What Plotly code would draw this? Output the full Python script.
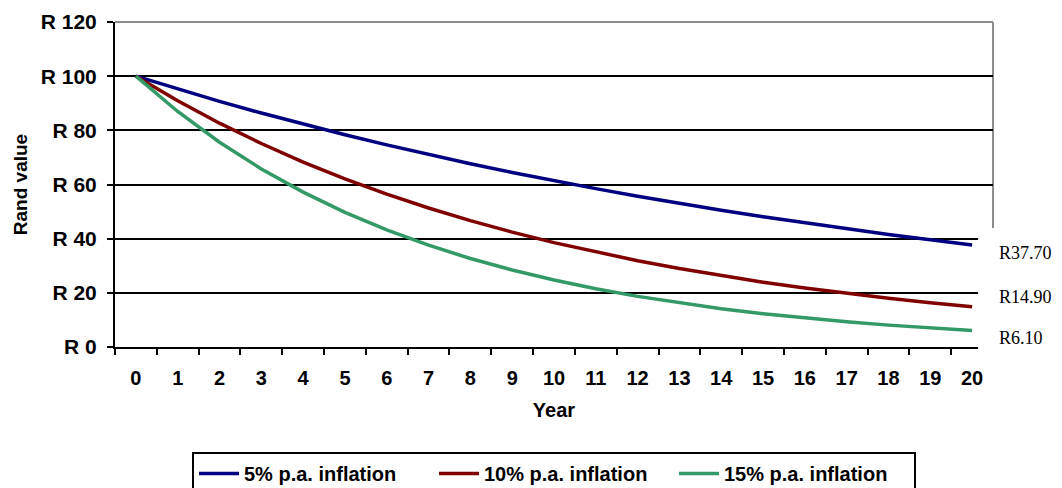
import plotly.graph_objects as go

years = list(range(21))
year_labels = [str(y) for y in years]
s5 = [100, 95.24, 90.70, 86.38, 82.27, 78.35, 74.62, 71.07, 67.68, 64.46, 61.39,
      58.47, 55.68, 53.03, 50.51, 48.10, 45.81, 43.63, 41.55, 39.57, 37.69]
s10 = [100, 90.91, 82.64, 75.13, 68.30, 62.09, 56.45, 51.32, 46.65, 42.41, 38.55,
       35.05, 31.86, 28.97, 26.33, 23.94, 21.76, 19.78, 17.99, 16.35, 14.86]
s15 = [100, 86.96, 75.61, 65.75, 57.18, 49.72, 43.23, 37.59, 32.69, 28.43, 24.72,
       21.49, 18.69, 16.25, 14.13, 12.29, 10.69, 9.29, 8.08, 7.03, 6.11]
series_names = ["5% p.a. inflation", "10% p.a. inflation", "15% p.a. inflation"]
series_colors = ["#000080", "#800000", "#339966"]
end_labels = ["R37.70", "R14.90", "R6.10"]
end_label_y = [34.7, 18.4, 3.3]
y_ticks = [0, 20, 40, 60, 80, 100, 120]
y_ticktext = ["R " + str(v) for v in y_ticks]

SANS = "Liberation Sans, Arial, sans-serif"
W, H = 1054, 480  # page body has an 8px margin

fig = go.Figure()
for name, vals, col in zip(series_names, [s5, s10, s15], series_colors):
    fig.add_trace(go.Scatter(x=years, y=vals, mode="lines", name=name,
                             line=dict(color=col, width=3.5)))

# gray frame top and right
fig.add_shape(type="line", xref="paper", yref="paper", x0=0, x1=1, y0=1, y1=1,
              line=dict(color="#8c8c8c", width=2), layer="below")
fig.add_shape(type="line", xref="paper", yref="paper", x0=1, x1=1, y0=0, y1=1,
              line=dict(color="#8c8c8c", width=2), layer="below")
# white box covering lower right corner of the plot frame
fig.add_shape(type="rect", xref="paper", yref="paper", x0=0.983, x1=1.2,
              y0=-0.05, y1=0.366, fillcolor="white", line=dict(width=0),
              layer="above")
for txt, yv in zip(end_labels, end_label_y):
    fig.add_annotation(x=1.005, xref="paper", y=yv, yref="y", text=txt,
                       showarrow=False, xanchor="left", yanchor="middle",
                       font=dict(family="Liberation Serif, Times New Roman, serif",
                                 size=18, color="black"))

fig.update_layout(
    width=W, height=H,
    margin=dict(l=107, r=69, t=14, b=141, autoexpand=False),
    plot_bgcolor="white", paper_bgcolor="white",
    font=dict(family=SANS, color="black"),
    showlegend=True,
    legend=dict(orientation="h", x=0.5, xanchor="center",
                yref="container", y=36 / H, yanchor="top",
                bordercolor="black", borderwidth=2,
                font=dict(size=20, family=SANS, weight="bold"),
                itemwidth=40, entrywidth=185, tracegroupgap=0),
    xaxis=dict(range=[-0.5, 20.5], tickvals=years, ticktext=year_labels,
               ticks="", showgrid=False, zeroline=False, automargin=False,
               showline=True, linecolor="black", linewidth=2,
               ticklabelstandoff=12,
               tickfont=dict(size=20, family=SANS, weight="bold"),
               minor=dict(tickvals=[i - 0.5 for i in range(22)], ticks="outside",
                          ticklen=6, tickwidth=2, tickcolor="black", showgrid=False),
               title=dict(text="Year", font=dict(size=20, weight="bold"), standoff=15)),
    yaxis=dict(range=[0, 120], tickvals=y_ticks, ticktext=y_ticktext,
               ticks="outside", ticklen=6, tickwidth=2, tickcolor="black",
               showgrid=True, gridcolor="black", gridwidth=1.8, automargin=False,
               zeroline=False, showline=True, linecolor="black", linewidth=2,
               ticklabelstandoff=6,
               tickfont=dict(size=21, family=SANS, weight="bold"),
               title=dict(text="Rand value", font=dict(size=19, weight="bold"), standoff=8)),
)

fig.write_html("out.html")
